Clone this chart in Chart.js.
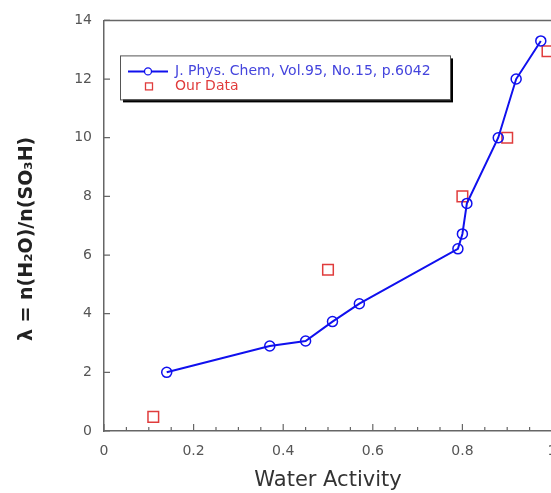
<!DOCTYPE html>
<html>
<head>
<meta charset="utf-8">
<title>Water uptake</title>
<script src="https://cdn.jsdelivr.net/npm/chart.js@4.4.1/dist/chart.umd.min.js"></script>
<style>
  html, body { margin: 0; padding: 0; overflow: hidden; background: #fff; }
  #wrap { position: absolute; left: 0; top: 0; width: 600px; height: 493px; }
</style>
</head>
<body>
<div id="wrap"><canvas id="myChart" width="600" height="493"></canvas></div>
<script>
// literature curve (J. Phys. Chem 95, 6042)
let litX = [0.14, 0.37, 0.45, 0.51, 0.57, 0.79, 0.80, 0.81, 0.88, 0.92, 0.975];
let litY = [2.0, 2.9, 3.07, 3.73, 4.34, 6.21, 6.72, 7.76, 10.0, 12.0, 13.3];
// our measurements
let ourX = [0.11, 0.50, 0.80, 0.90, 0.99];
let ourY = [0.48, 5.5, 8.0, 10.0, 12.95];

let xTicks = [0, 0.2, 0.4, 0.6, 0.8, 1];
let yTicks = [0, 2, 4, 6, 8, 10, 12, 14];
let litLabel = "J. Phys. Chem, Vol.95, No.15, p.6042";
let ourLabel = "Our Data";

let blue = "#1010ee";
let red = "#e03c3c";
let axisCol = "#666";

let litPts = [];
for (let i = 0; i < litX.length; i++) {
  litPts.push({ x: litX[i], y: litY[i] });
}
let ourPts = [];
for (let i = 0; i < ourX.length; i++) {
  ourPts.push({ x: ourX[i], y: ourY[i] });
}

// frame + inward tick marks
let framePlugin = {
  id: "frame",
  afterDraw(chart) {
    let ctx = chart.ctx;
    let a = chart.chartArea;
    let xs = chart.scales.x;
    let ys = chart.scales.y;
    ctx.save();
    ctx.strokeStyle = axisCol;
    ctx.lineWidth = 1.5;
    ctx.beginPath();
    ctx.moveTo(a.left, a.top);
    ctx.lineTo(a.right, a.top);
    ctx.lineTo(a.right, a.bottom);
    ctx.stroke();

    ctx.lineWidth = 1.2;
    ctx.beginPath();
    for (let v = 0; v <= 1.0001; v += 0.05) {
      let px = xs.getPixelForValue(v);
      let major = Math.abs(v * 5 - Math.round(v * 5)) < 0.001;
      let len = major ? 7 : 4;
      ctx.moveTo(px, a.bottom);
      ctx.lineTo(px, a.bottom - len);
    }
    for (let i = 0; i < yTicks.length; i++) {
      let py = ys.getPixelForValue(yTicks[i]);
      ctx.moveTo(a.left, py);
      ctx.lineTo(a.left + 6, py);
    }
    ctx.stroke();
    ctx.restore();
  }
};

// boxed legend with shadow inside the plot
let legendPlugin = {
  id: "boxLegend",
  afterDraw(chart) {
    let ctx = chart.ctx;
    let a = chart.chartArea;
    let bx = a.left + 16, by = a.top + 35, bw = 330, bh = 44;
    ctx.save();
    ctx.fillStyle = "#000";
    ctx.fillRect(bx + 3, by + 3, bw, bh);
    ctx.fillStyle = "#fff";
    ctx.fillRect(bx, by, bw, bh);
    ctx.strokeStyle = "#555";
    ctx.lineWidth = 1;
    ctx.strokeRect(bx + 0.5, by + 0.5, bw, bh);

    let r1 = by + 16, r2 = by + 31;
    ctx.strokeStyle = blue;
    ctx.lineWidth = 2;
    ctx.beginPath();
    ctx.moveTo(bx + 8, r1);
    ctx.lineTo(bx + 48, r1);
    ctx.stroke();
    ctx.lineWidth = 1.3;
    ctx.fillStyle = "#fff";
    ctx.beginPath();
    ctx.arc(bx + 28, r1, 3.5, 0, Math.PI * 2);
    ctx.fill();
    ctx.stroke();

    ctx.strokeStyle = red;
    ctx.lineWidth = 1.3;
    ctx.strokeRect(bx + 25.5, r2 - 3.5, 7, 7);

    ctx.font = "14px 'DejaVu Sans'";
    ctx.textBaseline = "middle";
    ctx.fillStyle = "#4444dd";
    ctx.fillText(litLabel, bx + 55, r1);
    ctx.fillStyle = red;
    ctx.fillText(ourLabel, bx + 55, r2);
    ctx.restore();
  }
};

new Chart("myChart", {
  type: "scatter",
  data: {
    datasets: [
      {
        label: litLabel,
        data: litPts,
        showLine: true,
        borderColor: blue,
        borderWidth: 2,
        backgroundColor: "rgba(0,0,0,0)",
        pointStyle: "circle",
        pointRadius: 5,
        pointBorderWidth: 1.5,
        pointBorderColor: blue,
        pointBackgroundColor: "rgba(255,255,255,0)"
      },
      {
        label: ourLabel,
        data: ourPts,
        showLine: false,
        pointStyle: "rect",
        pointRadius: 7.5,
        pointBorderWidth: 1.5,
        pointBorderColor: red,
        pointBackgroundColor: "rgba(255,255,255,0)"
      }
    ]
  },
  options: {
    responsive: false,
    animation: false,
    devicePixelRatio: 1,
    layout: { padding: { left: 0, right: 48, top: 18, bottom: 0 } },
    plugins: {
      legend: { display: false },
      tooltip: { enabled: false }
    },
    scales: {
      x: {
        type: "linear",
        min: 0,
        max: 1,
        afterFit: (s) => { s.height = 62; },
        afterBuildTicks: (s) => { s.ticks = xTicks.map(v => ({ value: v })); },
        grid: { display: false, drawTicks: false },
        border: { display: true, color: axisCol, width: 1.5 },
        ticks: {
          padding: 12,
          color: "#555",
          font: { family: "DejaVu Sans", size: 14 },
          callback: (v) => String(v)
        },
        title: {
          display: true,
          text: "Water Activity",
          color: "#333",
          padding: { top: 0, bottom: 0 },
          font: { family: "DejaVu Sans", size: 21 }
        }
      },
      y: {
        type: "linear",
        min: 0,
        max: 14,
        afterFit: (s) => { s.width = 104; },
        afterBuildTicks: (s) => { s.ticks = yTicks.map(v => ({ value: v })); },
        grid: { display: false, drawTicks: false },
        border: { display: true, color: axisCol, width: 1.5 },
        ticks: {
          padding: 12,
          color: "#555",
          font: { family: "DejaVu Sans", size: 14 }
        },
        title: {
          display: true,
          // trailing spaces push the text a bit lower, like the original
          text: "λ = n(H₂O)/n(SO₃H)    ",
          color: "#222",
          padding: { top: 16, bottom: 0 },
          font: { family: "DejaVu Sans", size: 19, weight: "bold" }
        }
      }
    }
  },
  plugins: [framePlugin, legendPlugin]
});
</script>
</body>
</html>
